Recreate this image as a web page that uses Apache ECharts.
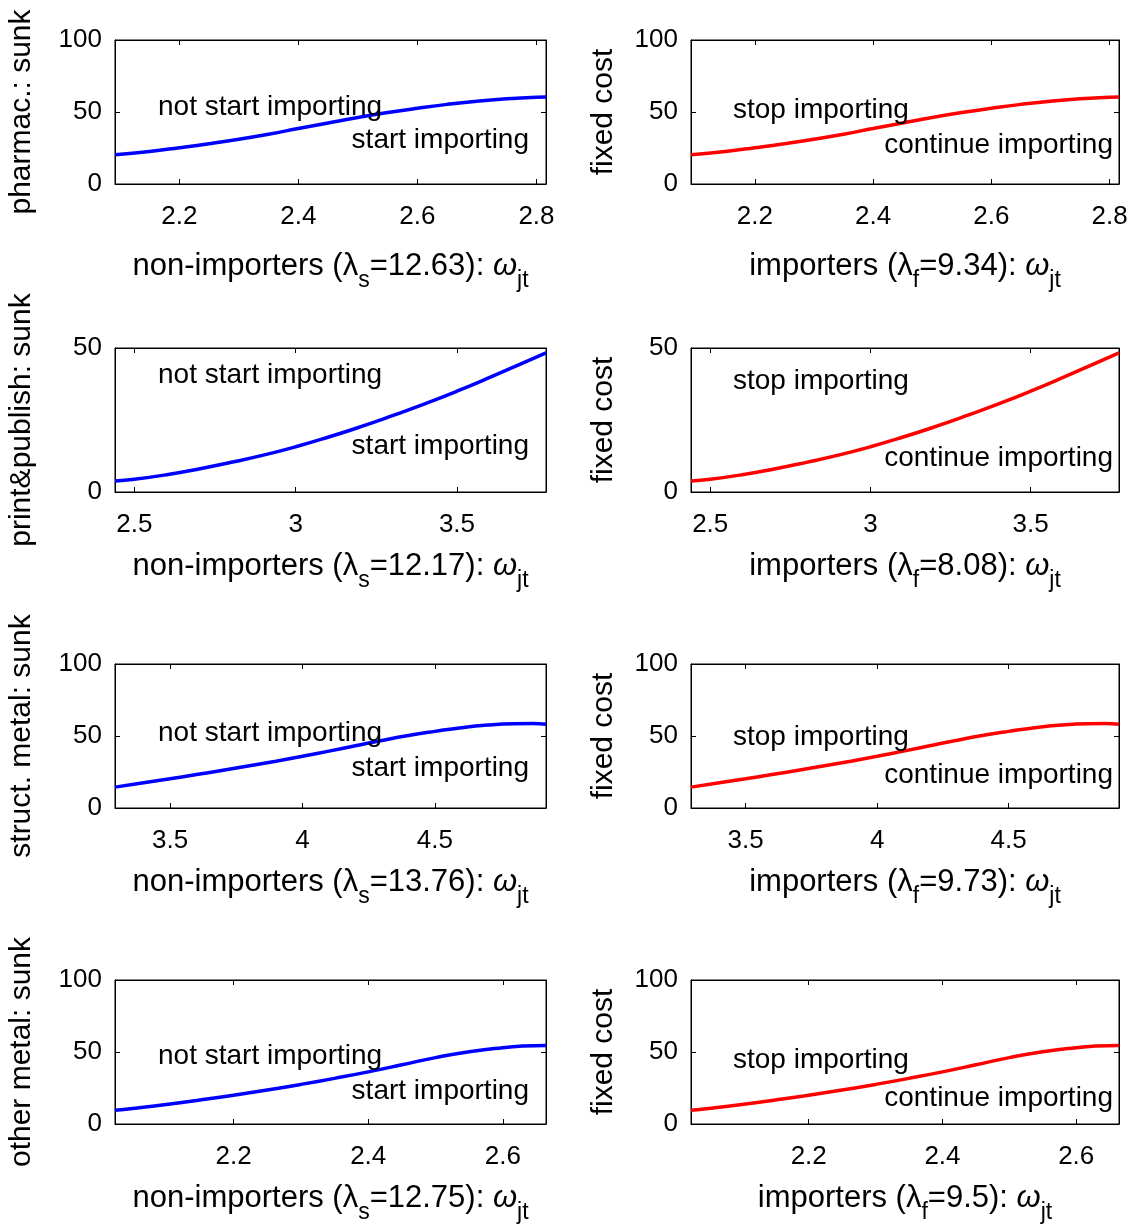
<!DOCTYPE html>
<html>
<head>
<meta charset="utf-8">
<script src="https://cdn.jsdelivr.net/npm/echarts@6/dist/echarts.min.js"></script>
<style>
  html, body { margin: 0; padding: 0; background: #fff; }
  #chart { width: 1141px; height: 1227px; }
</style>
</head>
<body>
<div id="chart"></div>
<script>
// values, one curve per industry (sunk and fixed cost curves coincide)
const pharmX = [2.092, 2.15, 2.2, 2.25, 2.3, 2.35, 2.4, 2.45, 2.5, 2.55, 2.6, 2.65, 2.7, 2.75, 2.8, 2.816];
const pharmY = [20.3, 22.6, 25.2, 28.0, 31.1, 34.6, 38.5, 42.4, 46.2, 49.6, 52.6, 55.3, 57.5, 59.2, 60.2, 60.4];

const printX = [2.44, 2.5, 2.6, 2.7, 2.8, 2.9, 3.0, 3.1, 3.2, 3.3, 3.4, 3.5, 3.6, 3.7, 3.776];
const printY = [3.8, 4.4, 6.0, 8.0, 10.3, 12.8, 15.7, 19.0, 22.6, 26.5, 30.6, 35.0, 39.7, 44.6, 48.3];

const structX = [3.292, 3.4, 3.5, 3.6, 3.7, 3.8, 3.9, 4.0, 4.1, 4.2, 4.3, 4.4, 4.5, 4.6, 4.7, 4.8, 4.87, 4.92];
const structY = [14.5, 17.5, 20.3, 23.2, 26.2, 29.3, 32.5, 35.9, 39.5, 43.2, 46.9, 50.3, 53.2, 55.8, 57.6, 58.5, 58.6, 58.2];

const otherX = [2.024, 2.05, 2.1, 2.15, 2.2, 2.25, 2.3, 2.35, 2.4, 2.45, 2.5, 2.55, 2.6, 2.63, 2.664];
const otherY = [9.5, 10.8, 13.6, 16.7, 20.0, 23.6, 27.5, 31.7, 36.2, 41.1, 46.1, 50.2, 53.0, 54.1, 54.6];

// tick labels
const pharmTicks = [2.2, 2.4, 2.6, 2.8];
const printTicks = [2.5, 3, 3.5];
const structTicks = [3.5, 4, 4.5];
const otherTicks = [2.2, 2.4, 2.6];
const yMaxes = [100, 50, 100, 100];

const industries = ['pharmac.: sunk', 'print&publish: sunk', 'struct. metal: sunk', 'other metal: sunk'];
const lambdaS = ['12.63', '12.17', '13.76', '12.75'];
const lambdaF = ['9.34', '8.08', '9.73', '9.5'];

const rowsX = [pharmX, printX, structX, otherX];
const rowsY = [pharmY, printY, structY, otherY];
const rowsTicks = [pharmTicks, printTicks, structTicks, otherTicks];

// layout
const FONT = '"Liberation Sans", Arial, Helvetica, sans-serif';
const rowTops = [40, 348, 664, 980];
const rowH = 144;
const colLeft = [115, 691];
const colW = [431, 428];
const titleGap = [82, 74, 74, 74];
const notStartY = [107, 375, 733, 1056];
const startY = [140, 446, 768, 1091];
const stopY = [110, 381, 737, 1060];
const contY = [145, 458, 775, 1098];

const chart = echarts.init(document.getElementById('chart'));

const grids = [], xAxes = [], yAxes = [], series = [], graphics = [];

for (let r = 0; r < 4; r++) {
  for (let c = 0; c < 2; c++) {
    const g = grids.length;
    grids.push({ left: colLeft[c], top: rowTops[r], width: colW[c], height: rowH,
                 show: true, borderColor: '#000', borderWidth: 1 });
    const xs = rowsX[r];
    const xmin = xs[0], xmax = xs[xs.length - 1];
    const ticks = rowsTicks[r];
    const base = {
      type: 'value', gridIndex: g, min: xmin, max: xmax,
      axisLine: { show: true, onZero: false, lineStyle: { color: '#000', width: 1 } },
      splitLine: { show: false },
      axisTick: { show: true, inside: true, length: 5, customValues: ticks, lineStyle: { color: '#000' } }
    };
    xAxes.push(Object.assign({}, base, {
      position: 'bottom',
      axisLabel: { show: true, customValues: ticks, color: '#000', fontSize: 26, fontFamily: FONT, margin: 20 }
    }));
    xAxes.push(Object.assign({}, base, { position: 'top', axisLabel: { show: false } }));
    const ymax = yMaxes[r];
    const ybase = {
      type: 'value', gridIndex: g, min: 0, max: ymax, interval: 50,
      axisLine: { show: true, onZero: false, lineStyle: { color: '#000', width: 1 } },
      splitLine: { show: false },
      axisTick: { show: true, inside: true, length: 5, lineStyle: { color: '#000' } }
    };
    yAxes.push(Object.assign({}, ybase, {
      position: 'left',
      axisLabel: { show: true, color: '#000', fontSize: 26, fontFamily: FONT, margin: 13 }
    }));
    yAxes.push(Object.assign({}, ybase, { position: 'right', axisLabel: { show: false } }));

    series.push({
      type: 'line', xAxisIndex: 2 * g, yAxisIndex: 2 * g,
      data: xs.map((x, i) => [x, rowsY[r][i]]),
      showSymbol: false, smooth: 0.5,
      lineStyle: { width: 3.5, color: c === 0 ? '#0000ff' : '#ff0000' },
      z: 3
    });

    const cx = colLeft[c] + colW[c] / 2;
    const titleMid = rowTops[r] + rowH + titleGap[r];
    const title = c === 0
      ? '{n|non-importers (λ}{s|s}{n|=' + lambdaS[r] + '): }{w|ω}{s|jt}'
      : '{n|importers (λ}{s|f}{n|=' + lambdaF[r] + '): }{w|ω}{s|jt}';
    graphics.push({
      type: 'text', x: cx, y: titleMid - 15, z: 10,
      style: {
        text: title, align: 'center', verticalAlign: 'top', fill: '#000',
        fontSize: 31, fontFamily: FONT,
        rich: {
          n: { fontSize: 31, fontFamily: FONT, color: '#000', verticalAlign: 'top' },
          w: { fontSize: 31, fontFamily: FONT, color: '#000', fontStyle: 'italic', verticalAlign: 'top' },
          s: { fontSize: 23, fontFamily: FONT, color: '#000', lineHeight: 41, verticalAlign: 'bottom' }
        }
      }
    });

    const ymid = rowTops[r] + rowH / 2;
    graphics.push({
      type: 'text', x: c === 0 ? 22 : 604, y: ymid, rotation: Math.PI / 2, z: 10,
      style: { text: c === 0 ? industries[r] : 'fixed cost', align: 'center', verticalAlign: 'middle',
               fill: '#000', fontSize: 30, fontFamily: FONT }
    });

    if (c === 0) {
      graphics.push({ type: 'text', x: 158, y: notStartY[r], z: 10,
        style: { text: 'not start importing', align: 'left', verticalAlign: 'middle', fill: '#000', fontSize: 28, fontFamily: FONT } });
      graphics.push({ type: 'text', x: 529, y: startY[r], z: 10,
        style: { text: 'start importing', align: 'right', verticalAlign: 'middle', fill: '#000', fontSize: 28, fontFamily: FONT } });
    } else {
      graphics.push({ type: 'text', x: 733, y: stopY[r], z: 10,
        style: { text: 'stop importing', align: 'left', verticalAlign: 'middle', fill: '#000', fontSize: 28, fontFamily: FONT } });
      graphics.push({ type: 'text', x: 1113, y: contY[r], z: 10,
        style: { text: 'continue importing', align: 'right', verticalAlign: 'middle', fill: '#000', fontSize: 28, fontFamily: FONT } });
    }
  }
}

chart.setOption({
  animation: false,
  backgroundColor: '#fff',
  grid: grids,
  xAxis: xAxes,
  yAxis: yAxes,
  series: series,
  graphic: graphics
});
</script>
</body>
</html>
